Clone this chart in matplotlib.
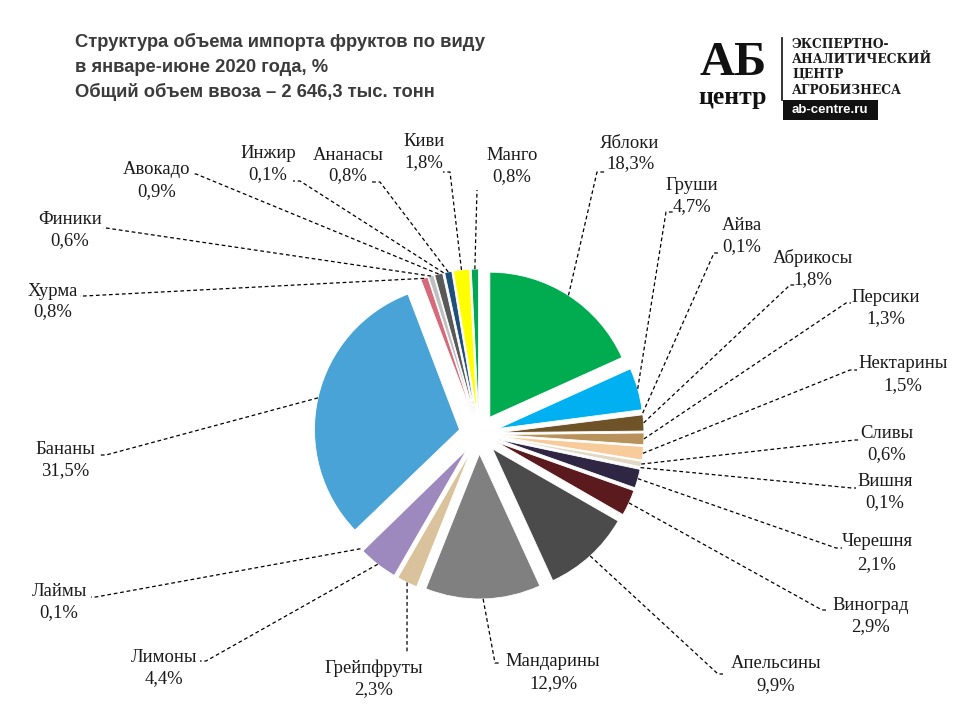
import matplotlib
matplotlib.use('Agg')
import matplotlib.pyplot as plt
import numpy as np
from matplotlib.patches import Rectangle

# ---------------- data ----------------
fruits = ["Яблоки", "Груши", "Айва", "Абрикосы", "Персики", "Нектарины", "Сливы",
          "Вишня", "Черешня", "Виноград", "Апельсины", "Мандарины", "Грейпфруты",
          "Лимоны", "Лаймы", "Бананы", "Хурма", "Финики", "Авокадо", "Инжир",
          "Ананасы", "Киви", "Манго"]
shares = [18.3, 4.7, 0.1, 1.8, 1.3, 1.5, 0.6,
          0.1, 2.1, 2.9, 9.9, 12.9, 2.3,
          4.4, 0.1, 31.5, 0.8, 0.6, 0.9, 0.1,
          0.8, 1.8, 0.8]
title_lines = ["Структура объема импорта фруктов по виду",
               "в январе-июне 2020 года, %",
               "Общий объем ввоза – 2 646,3 тыс. тонн"]

# ---------------- styles / layout ----------------
colors = ["#00AC4F", "#00B0F0", "#F2DCDB", "#6F5328", "#B8925A", "#F8CB9A", "#E3D8C3",
          "#C9C0D8", "#2E2643", "#5A1A1E", "#4B4B4B", "#808080", "#D9C29C",
          "#9E89BE", "#C5D9F1", "#4AA3D7", "#D46A7A", "#BFBFBF", "#595959", "#8DB4E2",
          "#1F4E79", "#FFFF00", "#00A651"]

# label layout in pixels (from top-left): text x, name y, pct y, corner x, corner y, tick dx
label_layout = {
    "Яблоки":     (630, 143, 164, 597, 172, 8),
    "Груши":      (692, 185, 207, 666, 212, 7),
    "Айва":       (742, 225, 247, 714, 253, 6),
    "Абрикосы":   (813, 258, 280, 790, 285, 6),
    "Персики":    (886, 297, 319, 846, 303, 5),
    "Нектарины":  (903, 364, 386, 850, 370, 7),
    "Сливы":      (887, 433, 455, 855, 440, 6),
    "Вишня":      (885, 482, 503, 852, 488, 4),
    "Черешня":    (877, 542, 565, 836, 548, 6),
    "Виноград":   (871, 605, 627, 822, 610, 6),
    "Апельсины":  (776, 664, 686, 718, 674, 5),
    "Мандарины":  (553, 662, 684, 495, 663, 6),
    "Грейпфруты": (374, 668, 690, 407, 652, 0),
    "Лимоны":     (164, 657, 679, 206, 661, -6),
    "Лаймы":      (59, 592, 613, 96, 597, -5),
    "Бананы":     (65, 450, 471, 106, 455, -6),
    "Хурма":      (53, 291, 312, 84, 296, -4),
    "Финики":     (70, 219, 241, 106, 228, -3),
    "Авокадо":    (157, 170, 192, 196, 174, -4),
    "Инжир":      (268, 153, 175, 300, 181, -7),
    "Ананасы":    (348, 155, 176, 380, 182, -10),
    "Киви":       (424, 142, 163, 450, 172, -7),
    "Манго":      (512, 155, 177, 477, 190, 0),
}

W, H = 960, 720
CX, CY = 479, 434      # pie centre (px from top-left)
R = 145                # radius in px
EXPL = 20              # explode offset in px


def P(x, y):
    return x, H - y


fig = plt.figure(figsize=(9.6, 7.2), dpi=100)
ax = fig.add_axes([0, 0, 1, 1])

wedges, _ = ax.pie(shares, colors=colors, startangle=90, counterclock=False,
                   radius=R, center=P(CX, CY), explode=[EXPL] * len(shares),
                   wedgeprops=dict(linewidth=0.6, edgecolor='white'))
ax.set_xlim(0, W)
ax.set_ylim(0, H)
ax.set_aspect('equal')
ax.axis('off')

label_font = dict(family=['Liberation Serif', 'DejaVu Serif'], fontsize=13.4, color='#1a1a1a')

for name, val, w in zip(fruits, shares, wedges):
    tx, y1, y2, kx, ky, tick = label_layout[name]
    th = np.deg2rad((w.theta1 + w.theta2) / 2)
    ax_x = w.center[0] + w.r * np.cos(th)
    ax_y = w.center[1] + w.r * np.sin(th)
    cx, cy = P(kx, ky)
    xs = [ax_x, cx, cx + tick]
    ys = [ax_y, cy, cy]
    ax.plot(xs, ys, color='black', lw=0.9, ls=(0, (3.0, 2.2)), solid_capstyle='butt')
    ax.text(*P(tx, y1), name, ha='center', va='center', **label_font)
    ax.text(*P(tx, y2), f"{val:.1f}%".replace('.', ','), ha='center', va='center', **label_font)

# ---------------- title ----------------
for i, line in enumerate(title_lines):
    ax.text(*P(75, 42 + 25 * i), line, ha='left', va='center',
            fontsize=13.2, fontweight='bold', color='#3b3b3b',
            family=['Liberation Sans', 'DejaVu Sans'])

# ---------------- logo ----------------
ax.text(*P(733, 75), "АБ", ha='center', va='baseline', fontsize=35, fontweight='bold',
        family=['Liberation Serif', 'DejaVu Serif'], color='#111111')
ax.text(*P(733, 104), "центр", ha='center', va='baseline', fontsize=18.5, fontweight='bold',
        family=['Liberation Serif', 'DejaVu Serif'], color='#111111')
ax.plot([782, 782], [H - 38, H - 100], color='#222222', lw=1.3)
for i, line in enumerate(["ЭКСПЕРТНО-", "АНАЛИТИЧЕСКИЙ", "ЦЕНТР", "АГРОБИЗНЕСА"]):
    ax.text(*P(792, 44 + 15.5 * i), line, ha='left', va='center', fontsize=8.8,
            fontweight='bold', family=['DejaVu Serif'], color='#1a1a1a')
ax.add_patch(Rectangle(P(783, 120), 95, 20, facecolor='#111111', edgecolor='none'))
ax.text(*P(830, 110), "ab-centre.ru", ha='center', va='center', fontsize=9.5,
        fontweight='bold', color='white', family=['Liberation Sans', 'DejaVu Sans'])

fig.savefig('out.png', dpi=100, facecolor='white')
